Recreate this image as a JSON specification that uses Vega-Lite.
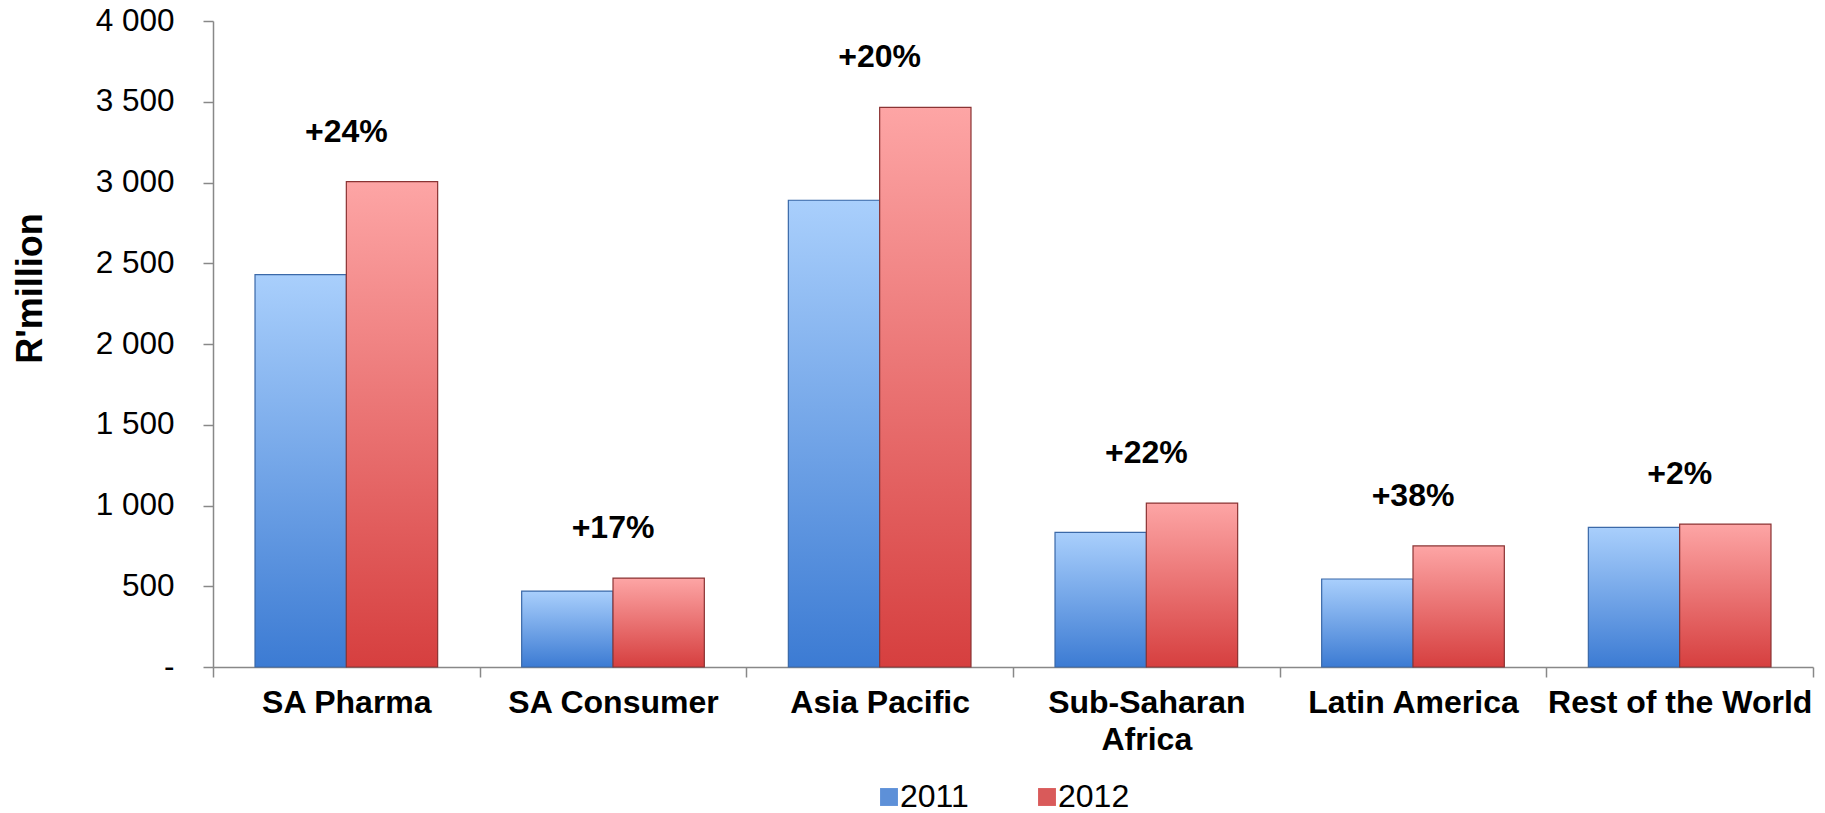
{
  "$schema": "https://vega.github.io/schema/vega-lite/v6.json",
  "width": 1600,
  "height": 646,
  "autosize": {"type": "none"},
  "padding": {"left": 213, "top": 21, "right": 12, "bottom": 146},
  "background": "white",
  "config": {
    "font": "Liberation Sans",
    "view": {"stroke": null}
  },
  "data": {
    "values": [
      {"region": "SA Pharma", "year": "2011", "value": 2430, "growth": "+24%"},
      {"region": "SA Pharma", "year": "2012", "value": 3005, "growth": "+24%"},
      {"region": "SA Consumer", "year": "2011", "value": 470, "growth": "+17%"},
      {"region": "SA Consumer", "year": "2012", "value": 550, "growth": "+17%"},
      {"region": "Asia Pacific", "year": "2011", "value": 2890, "growth": "+20%"},
      {"region": "Asia Pacific", "year": "2012", "value": 3465, "growth": "+20%"},
      {"region": "Sub-Saharan Africa", "year": "2011", "value": 833, "growth": "+22%"},
      {"region": "Sub-Saharan Africa", "year": "2012", "value": 1015, "growth": "+22%"},
      {"region": "Latin America", "year": "2011", "value": 545, "growth": "+38%"},
      {"region": "Latin America", "year": "2012", "value": 750, "growth": "+38%"},
      {"region": "Rest of the World", "year": "2011", "value": 865, "growth": "+2%"},
      {"region": "Rest of the World", "year": "2012", "value": 885, "growth": "+2%"}
    ]
  },
  "encoding": {
    "x": {
      "field": "region",
      "type": "nominal",
      "sort": null,
      "scale": {"paddingInner": 0, "paddingOuter": 0},
      "axis": {
        "title": null,
        "labelAngle": 0,
        "labelFont": "Liberation Sans",
        "labelFontSize": 32,
        "labelFontWeight": "bold",
        "labelColor": "black",
        "labelPadding": 10,
        "labelLimit": 0,
        "labelLineHeight": 37,
        "labelExpr": "datum.label == 'Sub-Saharan Africa' ? ['Sub-Saharan', 'Africa'] : datum.label",
        "tickBand": "extent",
        "tickSize": 10,
        "tickColor": "#888888",
        "domainColor": "#888888",
        "domainWidth": 1.5,
        "tickWidth": 1.5,
        "grid": false
      }
    },
    "y": {
      "field": "value",
      "type": "quantitative",
      "scale": {"domain": [0, 4000], "nice": false},
      "axis": {
        "title": "R'million",
        "titleFont": "Liberation Sans",
        "titleFontSize": 36,
        "titleFontWeight": "bold",
        "titleColor": "black",
        "titleX": -164,
        "titleY": 267,
        "values": [0, 500, 1000, 1500, 2000, 2500, 3000, 3500, 4000],
        "labelExpr": "datum.value == 0 ? '-' : replace(format(datum.value, ','), ',', ' ')",
        "labelFont": "Liberation Sans",
        "labelFontSize": 31.5,
        "labelColor": "black",
        "labelPadding": 29,
        "tickSize": 10,
        "tickColor": "#888888",
        "domainColor": "#888888",
        "domainWidth": 1.5,
        "tickWidth": 1.5,
        "grid": false
      }
    }
  },
  "layer": [
    {
      "mark": {"type": "bar"},
      "encoding": {
        "xOffset": {"field": "year", "type": "nominal", "sort": ["2011", "2012"], "scale": {"paddingInner": 0, "paddingOuter": 0.46}},
        "color": {
          "field": "year",
          "type": "nominal",
          "scale": {"domain": ["2011", "2012"], "range": ["#5d90d8", "#d95a5a"]},
          "legend": {
            "title": null,
            "orient": "none",
            "direction": "horizontal",
            "legendX": 660,
            "legendY": 760,
            "symbolType": "square",
            "symbolSize": 320,
            "symbolStrokeWidth": 0,
            "labelFont": "Liberation Sans",
            "labelFontSize": 32,
            "labelColor": "black",
            "labelOffset": -5,
            "columnPadding": 62
          }
        }
      }
    },
    {
      "transform": [{"filter": "datum.year == '2011'"}],
      "mark": {
        "type": "bar",
        "stroke": "#3b69a8",
        "strokeWidth": 1.2,
        "color": {"gradient": "linear", "x1": 0, "y1": 0, "x2": 0, "y2": 1, "stops": [{"offset": 0, "color": "#a9cffc"}, {"offset": 1, "color": "#3c7bd3"}]}
      },
      "encoding": {
        "xOffset": {"field": "year", "type": "nominal", "sort": ["2011", "2012"], "scale": {"paddingInner": 0, "paddingOuter": 0.46}}
      }
    },
    {
      "transform": [{"filter": "datum.year == '2012'"}],
      "mark": {
        "type": "bar",
        "stroke": "#8a3434",
        "strokeWidth": 1.2,
        "color": {"gradient": "linear", "x1": 0, "y1": 0, "x2": 0, "y2": 1, "stops": [{"offset": 0, "color": "#fda5a5"}, {"offset": 1, "color": "#d63f3f"}]}
      },
      "encoding": {
        "xOffset": {"field": "year", "type": "nominal", "sort": ["2011", "2012"], "scale": {"paddingInner": 0, "paddingOuter": 0.46}}
      }
    },
    {
      "transform": [{"filter": "datum.year == '2012'"}],
      "mark": {"type": "text", "dy": -50, "baseline": "middle", "align": "center", "font": "Liberation Sans", "fontSize": 32, "fontWeight": "bold", "color": "black"},
      "encoding": {
        "text": {"field": "growth", "type": "nominal"}
      }
    }
  ]
}
